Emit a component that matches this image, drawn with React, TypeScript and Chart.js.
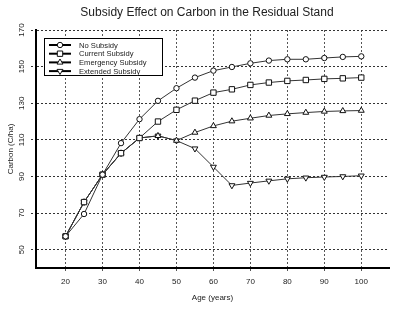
import React, { useEffect, useRef } from "react";
import { Chart, registerables } from "chart.js";

Chart.register(...registerables);

const ages = [20, 25, 30, 35, 40, 45, 50, 55, 60, 65, 70, 75, 80, 85, 90, 95, 100];
const noSubsidy = [57.3, 69.5, 91, 108.2, 121.3, 131.3, 138.2, 144, 147.8, 149.8, 151.8, 153.3, 154, 154, 154.7, 155.3, 155.6];
const currentSubsidy = [57.3, 76, 91, 102.7, 111, 120, 126.4, 131.4, 135.8, 137.6, 140, 141.3, 142.2, 142.7, 143.3, 143.6, 144];
const emergencySubsidy = [57.3, 76, 91, 102.7, 111, 112.2, 109.6, 114, 117.6, 120.2, 121.8, 123.3, 124.2, 124.9, 125.5, 125.8, 126];
const extendedSubsidy = [57.3, 76, 91, 102.7, 111, 112.2, 109.6, 105.2, 95.2, 85.1, 86.4, 87.6, 88.7, 89.3, 89.7, 90, 90.4];
const seriesLabels = ["No Subsidy", "Current Subsidy", "Emergency Subsidy", "Extended Subsidy"];
const xTicks = [20, 30, 40, 50, 60, 70, 80, 90, 100];
const yTicks = [50, 70, 90, 110, 130, 150, 170];
const chartTitle = "Subsidy Effect on Carbon in the Residual Stand";
const xTitle = "Age (years)";
const yTitle = "Carbon (C/ha)";

const FONT = "'Liberation Sans', Arial, sans-serif";
const TEXT = "#222";
const LINE = "#333";

type Marker = { style: string; radius: number; rotation: number };
const markers: Marker[] = [
  { style: "circle", radius: 2.7, rotation: 0 },
  { style: "rect", radius: 3.8, rotation: 0 },
  { style: "triangle", radius: 3.4, rotation: 0 },
  { style: "triangle", radius: 3.4, rotation: 180 },
];

function drawMarker(ctx: CanvasRenderingContext2D, m: Marker, x: number, y: number) {
  ctx.beginPath();
  if (m.style === "circle") {
    ctx.arc(x, y, m.radius, 0, Math.PI * 2);
  } else if (m.style === "rect") {
    const s = Math.SQRT1_2 * m.radius;
    ctx.rect(x - s, y - s, 2 * s, 2 * s);
  } else {
    let rad = (m.rotation * Math.PI) / 180;
    const r = m.radius;
    ctx.moveTo(x + Math.sin(rad) * r, y - Math.cos(rad) * r);
    rad += (2 * Math.PI) / 3;
    ctx.lineTo(x + Math.sin(rad) * r, y - Math.cos(rad) * r);
    rad += (2 * Math.PI) / 3;
    ctx.lineTo(x + Math.sin(rad) * r, y - Math.cos(rad) * r);
    ctx.closePath();
  }
  ctx.fillStyle = "#fff";
  ctx.fill();
  ctx.lineWidth = 1;
  ctx.strokeStyle = "#111";
  ctx.stroke();
}

const decorPlugin = {
  id: "decor",
  afterDraw(chart: any) {
    const ctx: CanvasRenderingContext2D = chart.ctx;
    const area = chart.chartArea;
    const yScale = chart.scales.y;
    ctx.save();
    // chart title
    ctx.fillStyle = TEXT;
    ctx.font = `12px ${FONT}`;
    ctx.textAlign = "center";
    ctx.textBaseline = "middle";
    ctx.fillText(chartTitle, 207, 13);
    // rotated y tick labels
    ctx.font = `8px ${FONT}`;
    for (const v of yTicks) {
      const py = yScale.getPixelForValue(v);
      ctx.save();
      ctx.translate(area.left - 14, py);
      ctx.rotate(-Math.PI / 2);
      ctx.fillText(String(v), 0, 0);
      ctx.restore();
    }
    // legend
    const bx = area.left + 8;
    const by = area.top + 8;
    const bw = 118;
    const bh = 37;
    ctx.fillStyle = "#fff";
    ctx.fillRect(bx, by, bw, bh);
    ctx.lineWidth = 1;
    ctx.strokeStyle = "#000";
    ctx.strokeRect(bx + 0.5, by + 0.5, bw, bh);
    ctx.font = `7.6px ${FONT}`;
    ctx.textAlign = "left";
    ctx.textBaseline = "middle";
    chart.data.datasets.forEach((ds: any, i: number) => {
      const y = by + 7 + i * 8.7;
      ctx.beginPath();
      ctx.moveTo(bx + 5, y);
      ctx.lineTo(bx + 27, y);
      ctx.lineWidth = 2;
      ctx.strokeStyle = "#000";
      ctx.stroke();
      drawMarker(ctx, markers[i], bx + 16, y);
      ctx.fillStyle = TEXT;
      ctx.fillText(ds.label, bx + 35, y + 0.5);
    });
    ctx.restore();
  },
};

export default function App() {
  const ref = useRef<HTMLCanvasElement | null>(null);
  useEffect(() => {
    document.body.style.margin = "0";
    const series = [noSubsidy, currentSubsidy, emergencySubsidy, extendedSubsidy];
    const datasets = series.map((vals, i) => ({
      label: seriesLabels[i],
      data: ages.map((a, j) => ({ x: a, y: vals[j] })),
      borderColor: LINE,
      borderWidth: 1,
      backgroundColor: "#fff",
      pointStyle: markers[i].style,
      pointRadius: markers[i].radius,
      pointRotation: markers[i].rotation,
      pointBackgroundColor: "#fff",
      pointBorderColor: "#111",
      pointBorderWidth: 1,
      tension: 0,
      fill: false,
    }));
    const chart = new Chart(ref.current!, {
      type: "line",
      data: { datasets },
      plugins: [decorPlugin],
      options: {
        animation: false,
        responsive: true,
        maintainAspectRatio: false,
        layout: { padding: { top: 30, right: 0, left: 0, bottom: 0 } },
        plugins: { legend: { display: false }, title: { display: false }, tooltip: { enabled: false } },
        scales: {
          x: {
            type: "linear",
            min: 12,
            max: 107.5,
            afterBuildTicks: (s: any) => {
              s.ticks = xTicks.map((v) => ({ value: v }));
            },
            afterFit: (s: any) => {
              s.height = 41;
            },
            ticks: {
              font: { family: FONT, size: 8 },
              color: TEXT,
              padding: 5,
              maxRotation: 0,
              minRotation: 0,
              autoSkip: false,
            },
            grid: {
              color: "#555",
              lineWidth: 1,
              tickLength: 4,
              tickColor: "#555",
              tickBorderDash: [2, 2],
            },
            border: { display: true, color: "#000", width: 2, dash: [2, 2] },
            title: {
              display: true,
              text: xTitle,
              font: { family: FONT, size: 8 },
              color: TEXT,
              padding: { top: 0, bottom: 6 },
            },
          },
          y: {
            type: "linear",
            min: 40,
            max: 170,
            afterBuildTicks: (s: any) => {
              s.ticks = yTicks.map((v) => ({ value: v }));
            },
            afterFit: (s: any) => {
              s.width = 36;
            },
            ticks: { display: false },
            grid: {
              color: "#333",
              lineWidth: 1,
              tickLength: 5,
              tickColor: "#333",
              tickBorderDash: [2, 2],
            },
            border: { display: true, color: "#000", width: 2, dash: [2, 2] },
            title: {
              display: true,
              text: yTitle,
              font: { family: FONT, size: 8 },
              color: TEXT,
              padding: { top: 6, bottom: 0 },
            },
          },
        },
      },
    } as any);
    return () => chart.destroy();
  }, []);
  return (
    <div style={{ width: 394, height: 309, position: "relative" }}>
      <canvas ref={ref} />
    </div>
  );
}
